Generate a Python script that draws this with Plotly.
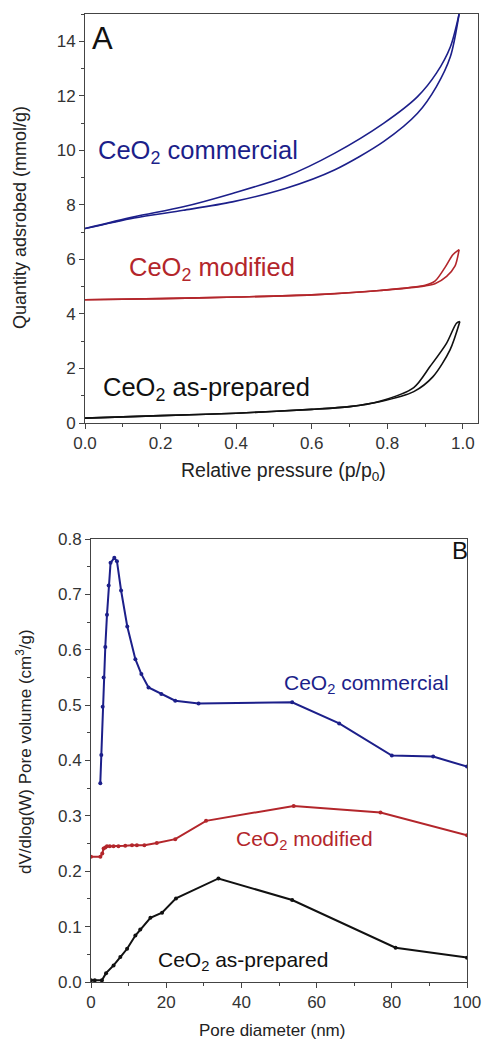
import plotly.graph_objects as go

# ---------------- Panel A: N2 isotherms (adsorption / desorption branches) ----------------
com_ads_x = [0.0, 0.13, 0.26, 0.39, 0.53, 0.66, 0.79, 0.88, 0.93, 0.967, 0.99]
com_ads_y = [7.13, 7.52, 7.80, 8.11, 8.60, 9.28, 10.32, 11.36, 12.34, 13.44, 15.0]
com_des_x = [0.0, 0.13, 0.26, 0.39, 0.53, 0.66, 0.79, 0.88, 0.93, 0.967, 0.99]
com_des_y = [7.13, 7.56, 7.93, 8.42, 9.03, 9.89, 10.99, 11.97, 12.83, 13.80, 15.0]

mod_ads_x = [0.0, 0.2, 0.4, 0.6, 0.78, 0.9, 0.926, 0.957, 0.979, 0.99]
mod_ads_y = [4.52, 4.56, 4.62, 4.70, 4.86, 5.03, 5.11, 5.38, 5.75, 6.36]
mod_des_x = [0.0, 0.2, 0.4, 0.6, 0.78, 0.9, 0.926, 0.952, 0.974, 0.99]
mod_des_y = [4.52, 4.56, 4.62, 4.70, 4.86, 5.05, 5.20, 5.69, 6.18, 6.36]

asp_ads_x = [0.0, 0.2, 0.4, 0.6, 0.7, 0.78, 0.87, 0.921, 0.966, 0.992]
asp_ads_y = [0.18, 0.27, 0.36, 0.50, 0.60, 0.78, 1.15, 1.70, 2.68, 3.72]
asp_des_x = [0.0, 0.2, 0.4, 0.6, 0.7, 0.78, 0.87, 0.913, 0.957, 0.983, 0.992]
asp_des_y = [0.18, 0.27, 0.36, 0.50, 0.60, 0.80, 1.30, 2.07, 2.93, 3.66, 3.72]

# ---------------- Panel B: pore size distribution ----------------
com_d = [2.47, 2.74, 3.1, 3.36, 3.8, 4.25, 4.7, 5.2, 6.2, 6.9, 8.0, 9.65, 11.8, 13.4,
         15.3, 18.7, 22.4, 28.6, 53.5, 66, 80, 91, 100]
com_v = [0.359, 0.41, 0.497, 0.55, 0.605, 0.663, 0.716, 0.757, 0.766, 0.76, 0.707, 0.642,
         0.583, 0.556, 0.532, 0.52, 0.508, 0.503, 0.505, 0.467, 0.409, 0.407, 0.389]

mod_d = [0.0, 2.5, 3.0, 3.35, 3.8, 4.25, 5.0, 6.0, 7.3, 9.1, 10.9, 12.2, 14.2, 17.5,
         22.4, 30.6, 53.9, 77, 100]
mod_v = [0.226, 0.226, 0.232, 0.241, 0.243, 0.245, 0.245, 0.245, 0.245, 0.246, 0.247,
         0.247, 0.247, 0.251, 0.258, 0.291, 0.318, 0.306, 0.265]

asp_d = [0.0, 1.0, 2.9, 4.0, 6.0, 7.8, 9.6, 11.8, 13.1, 15.8, 18.9, 22.6, 33.9, 53.5, 81, 100]
asp_v = [0.003, 0.003, 0.003, 0.016, 0.03, 0.045, 0.06, 0.084, 0.095, 0.116, 0.125,
         0.151, 0.187, 0.148, 0.062, 0.044]

BLUE = "#1c1f8a"
RED = "#b3262b"
BLACK = "#111111"
FONT = "Arial, 'Liberation Sans', sans-serif"

W, H = 482, 1040

fig = go.Figure()

# Panel A traces
for xs, ys, c in [
    (com_ads_x, com_ads_y, BLUE), (com_des_x, com_des_y, BLUE),
    (mod_ads_x, mod_ads_y, RED), (mod_des_x, mod_des_y, RED),
    (asp_ads_x, asp_ads_y, BLACK), (asp_des_x, asp_des_y, BLACK),
]:
    fig.add_trace(go.Scatter(x=xs, y=ys, mode="lines", xaxis="x", yaxis="y",
                             line=dict(color=c, width=1.6, shape="spline", smoothing=0.8),
                             showlegend=False, hoverinfo="skip"))

# Panel B traces
for xs, ys, c in [(com_d, com_v, BLUE), (mod_d, mod_v, RED), (asp_d, asp_v, BLACK)]:
    fig.add_trace(go.Scatter(x=xs, y=ys, mode="lines+markers", xaxis="x2", yaxis="y2",
                             line=dict(color=c, width=2),
                             marker=dict(color=c, size=4),
                             showlegend=False, hoverinfo="skip"))

def axis_style(rng, dtick, minor_dtick, fmt, domain, anchor):
    return dict(
        range=rng, domain=domain, anchor=anchor, automargin=False,
        showline=True, mirror=True, linecolor="#444", linewidth=1,
        ticks="outside", ticklen=5, tickwidth=1, tickcolor="#444",
        dtick=dtick, tick0=0, tickformat=fmt,
        minor=dict(ticks="outside", ticklen=3, tickwidth=1, tickcolor="#444", dtick=minor_dtick),
        showgrid=False, zeroline=False,
        tickfont=dict(family=FONT, size=17, color="#333"),
    )

def px(x):
    return x / W

def py(y):
    return 1 - y / H

fig.update_layout(
    width=W, height=H, margin=dict(l=0, r=0, t=0, b=0, autoexpand=False),
    paper_bgcolor="white", plot_bgcolor="white",
    font=dict(family=FONT, color="#222"),
    xaxis=axis_style([0, 1.04], 0.2, 0.1, ".1f", [px(85), px(478)], "y"),
    yaxis=axis_style([0, 15], 2, 1, "d", [py(423), py(14)], "x"),
    xaxis2=axis_style([0, 100], 20, 10, "d", [px(91), px(467)], "y2"),
    yaxis2=axis_style([0, 0.8], 0.1, 0.05, ".1f", [py(982), py(539)], "x2"),
)

ann = []
def text(x, y, s, size, color="#222", angle=0, xanchor="left"):
    ann.append(dict(x=px(x), y=py(y), xref="paper", yref="paper", text=s, showarrow=False,
                    xanchor=xanchor, yanchor="middle", textangle=angle,
                    font=dict(family=FONT, size=size, color=color)))

# Panel A labels
text(90, 39, "A", 31, "#111")
text(96, 152, "CeO<sub>2</sub> commercial", 25.5, BLUE)
text(127, 269, "CeO<sub>2</sub> modified", 25.5, RED)
text(101, 389, "CeO<sub>2</sub> as-prepared", 25.5, BLACK)
text(283, 472, "Relative pressure (p/p<sub>0</sub>)", 19.5, xanchor="center")
text(20, 218, "Quantity adsrobed (mmol/g)", 18, angle=-90, xanchor="center")

# Panel B labels
text(460, 550, "B", 24, "#111", xanchor="center")
text(282, 684, "CeO<sub>2</sub> commercial", 21, BLUE)
text(234, 840, "CeO<sub>2</sub> modified", 21, RED)
text(156, 961, "CeO<sub>2</sub> as-prepared", 21, BLACK)
text(272, 1030, "Pore diameter (nm)", 17, xanchor="center")
text(24, 752, "dV/dlog(W) Pore volume (cm<sup>3</sup>/g)", 17, angle=-90, xanchor="center")

fig.update_layout(annotations=ann)

fig.write_html("out.html")
